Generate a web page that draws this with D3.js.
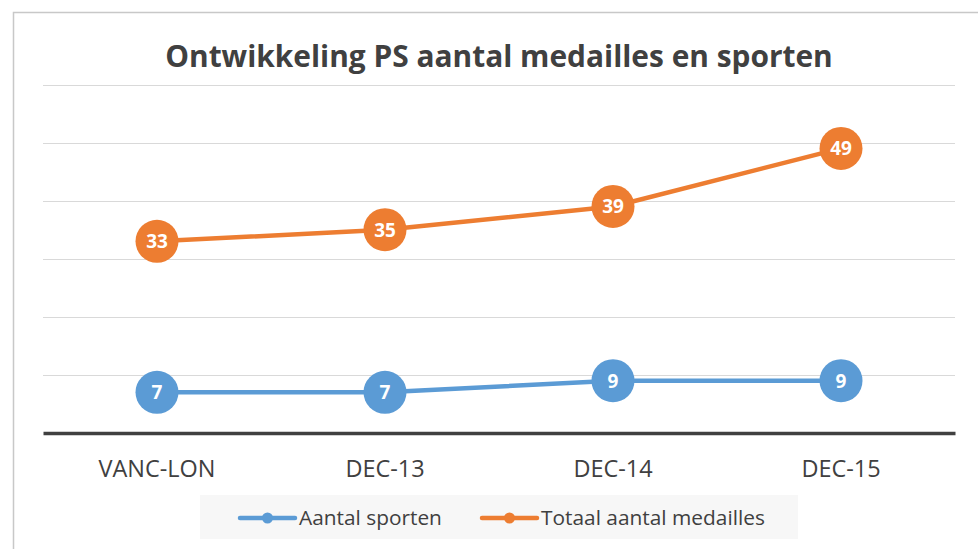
<!DOCTYPE html>
<html><head><meta charset="utf-8">
<script src="https://cdn.jsdelivr.net/npm/d3@7/dist/d3.min.js"></script>
<style>
html,body{margin:0;padding:0;background:#fff;}
svg{display:block;font-family:"Open Sans","Noto Sans",sans-serif;}
</style></head>
<body>
<script>
const categories = ["VANC-LON", "DEC-13", "DEC-14", "DEC-15"];
const seriesNames = ["Aantal sporten", "Totaal aantal medailles"];
const sporten = [7, 7, 9, 9];
const medailles = [33, 35, 39, 49];
const yTicks = [0, 10, 20, 30, 40, 50, 60];
const titleText = "Ontwikkeling PS aantal medailles en sporten";

const W = 978, H = 549;
const colors = ["#5B9BD5", "#ED7D31"];
const FONT = '"Open Sans","Noto Sans",sans-serif';
const svg = d3.select("body").append("svg").attr("width", W).attr("height", H);

// fit a text element's font size so it spans a target width
function fit(sel, base, target) {
  sel.style("font-size", base + "px");
  const w = sel.node().getComputedTextLength();
  sel.style("font-size", (base * target / w) + "px");
}

// chart border
svg.append("rect").attr("x", 13.5).attr("y", 12.5).attr("width", 990).attr("height", 560)
  .attr("fill", "#fff").attr("stroke", "#c8c8c8").attr("stroke-width", 1.5);

const x = d3.scaleBand().domain(categories).range([43, 955]);
const y = d3.scaleLinear().domain([0, 60]).range([433, 84.5]);

// gridlines
svg.append("g").selectAll("line").data(yTicks.filter(d => d > 0)).join("line")
  .attr("x1", 43).attr("x2", 955)
  .attr("y1", d => Math.round(y(d)) + 0.5).attr("y2", d => Math.round(y(d)) + 0.5)
  .attr("stroke", "#d9d9d9").attr("stroke-width", 1);

// x axis
const xAxis = svg.append("g").attr("transform", `translate(0,${y(0)})`)
  .call(d3.axisBottom(x).tickSize(0).tickPadding(0));
xAxis.attr("font-family", null).attr("font-size", null);
xAxis.select(".domain").attr("stroke", "#404040").attr("stroke-width", 3.5);
const tickTexts = xAxis.selectAll("text").attr("dy", null).attr("y", 44)
  .attr("fill", "#404040").style("font-family", FONT);
// size tick labels so "VANC-LON" spans ~117px like the reference
const first = xAxis.select(".tick text");
fit(first, 19, 117);
const tickSize = first.style("font-size");
tickTexts.style("font-size", tickSize);

// title
const title = svg.append("text").attr("x", 499).attr("y", 67).attr("text-anchor", "middle")
  .attr("fill", "#404040").style("font-weight", "bold").text(titleText);
fit(title, 28, 668);

const cx = d => x(d) + x.bandwidth() / 2;
const line = d3.line().x(d => cx(d.c)).y(d => y(d.v));
[sporten, medailles].forEach((vals, i) => {
  const pts = categories.map((c, j) => ({c, v: vals[j]}));
  const g = svg.append("g");
  g.append("path").datum(pts).attr("d", line).attr("fill", "none")
    .attr("stroke", colors[i]).attr("stroke-width", 4.5).attr("stroke-linejoin", "round");
  g.selectAll("circle").data(pts).join("circle")
    .attr("cx", d => cx(d.c)).attr("cy", d => y(d.v)).attr("r", 21.5).attr("fill", colors[i]);
  g.selectAll("text").data(pts).join("text")
    .attr("x", d => cx(d.c)).attr("y", d => y(d.v) + 7).attr("text-anchor", "middle")
    .attr("fill", "#fff").style("font-size", "19px").style("font-weight", "bold").text(d => d.v);
});

// legend
const lg = svg.append("g");
lg.append("rect").attr("x", 200).attr("y", 495).attr("width", 598).attr("height", 44).attr("fill", "#f7f7f7");
const legendItems = [{x: 240, tx: 299, w: 143}, {x: 482, tx: 541, w: 224}];
legendItems.forEach((it, i) => {
  lg.append("line").attr("x1", it.x).attr("x2", it.x + 55).attr("y1", 518).attr("y2", 518)
    .attr("stroke", colors[i]).attr("stroke-width", 4.5).attr("stroke-linecap", "round");
  lg.append("circle").attr("cx", it.x + 27.5).attr("cy", 518).attr("r", 5.5).attr("fill", colors[i]);
  const t = lg.append("text").attr("x", it.tx).attr("y", 525).attr("fill", "#404040").text(seriesNames[i]);
  fit(t, 19, it.w);
});
</script>
</body></html>
